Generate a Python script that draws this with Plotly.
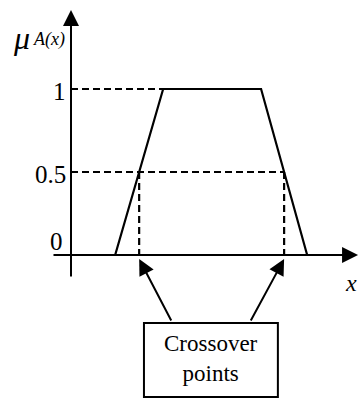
import plotly.graph_objects as go

# ---- data ----
trap_x = [0.92, 1.92, 3.96, 4.92]      # a, b, c, d corners of trapezoid
trap_mu = [0, 1, 1, 0]                  # membership at corners
cross_mu = 0.5                          # crossover membership level
cross_x = [1.42, 4.44]                  # crossover points
tick_vals = [0, 0.5, 1]
tick_text = ["0", "0.5", "1"]
box_text = "Crossover<br>points"

BLACK = "#000000"
SERIF = "Liberation Serif, Times New Roman, serif"
DASH = "7px,4px"

fig = go.Figure()

# trapezoid membership function
fig.add_trace(go.Scatter(x=trap_x, y=trap_mu, mode="lines",
                         line=dict(color=BLACK, width=2.2), hoverinfo="skip"))

# dashed guide at mu = 1 (from axis to top-left corner)
fig.add_trace(go.Scatter(x=[0, trap_x[1]], y=[trap_mu[1], trap_mu[1]], mode="lines",
                         line=dict(color=BLACK, width=2, dash=DASH), hoverinfo="skip"))
# dashed guide at mu = 0.5 (from axis to right crossover)
fig.add_trace(go.Scatter(x=[0, cross_x[1]], y=[cross_mu, cross_mu], mode="lines",
                         line=dict(color=BLACK, width=2, dash=DASH), hoverinfo="skip"))
# vertical dashed lines at crossovers
for cx in cross_x:
    fig.add_trace(go.Scatter(x=[cx, cx], y=[cross_mu, 0], mode="lines",
                             line=dict(color=BLACK, width=2.2, dash=DASH), hoverinfo="skip"))

ann = []
# y axis arrow
ann.append(dict(x=0, y=1.476, ax=0, ay=-0.139, xref="x", yref="y", axref="x", ayref="y",
                showarrow=True, arrowhead=2, arrowsize=1.6, arrowwidth=2, arrowcolor=BLACK, text=""))
# x axis arrow
ann.append(dict(x=5.98, y=0, ax=-0.396, ay=0, xref="x", yref="y", axref="x", ayref="y",
                showarrow=True, arrowhead=2, arrowsize=1.6, arrowwidth=2, arrowcolor=BLACK, text=""))
# crossover arrows from the box
box_x0, box_x1, box_y0, box_y1 = 1.52, 4.31, -0.855, -0.41
tails = [(2.104, -0.404), (3.729, -0.404)]
for cx, (tx, ty) in zip(cross_x, tails):
    ann.append(dict(x=cx, y=-0.024, ax=tx, ay=ty, xref="x", yref="y", axref="x", ayref="y",
                    showarrow=True, arrowhead=2, arrowsize=1.6, arrowwidth=2, arrowcolor=BLACK, text=""))

# tick labels
for v, t in zip(tick_vals, tick_text):
    ann.append(dict(x=-0.06 if v != 0 else -0.12, y=v, xref="x", yref="y", text=t, showarrow=False,
                    xanchor="right", yanchor="middle", yshift=(14 if v == 0 else -2),
                    xshift=0, font=dict(family=SERIF, size=25, color=BLACK)))

# axis titles
ann.append(dict(x=-1.25, y=1.31, xref="x", yref="y", text="<i>μ</i>", showarrow=False,
                xanchor="left", yanchor="middle", font=dict(family=SERIF, size=32, color=BLACK)))
ann.append(dict(x=-0.84, y=1.30, xref="x", yref="y", text="<i>A(x)</i>", showarrow=False,
                xanchor="left", yanchor="middle", font=dict(family=SERIF, size=18, color=BLACK)))
ann.append(dict(x=6.0, y=-0.17, xref="x", yref="y", text="<i>x</i>", showarrow=False,
                xanchor="right", yanchor="middle", font=dict(family=SERIF, size=24, color=BLACK)))

# box text
ann.append(dict(x=(box_x0 + box_x1) / 2, y=(box_y0 + box_y1) / 2 + 0.01, xref="x", yref="y",
                text=box_text, showarrow=False, xanchor="center", yanchor="middle",
                font=dict(family=SERIF, size=23, color=BLACK)))

fig.add_shape(type="rect", x0=box_x0, x1=box_x1, y0=box_y0, y1=box_y1, xref="x", yref="y",
              line=dict(color=BLACK, width=2), fillcolor="rgba(0,0,0,0)")

fig.update_layout(
    width=359, height=399,
    margin=dict(l=0, r=0, t=0, b=0),
    paper_bgcolor="white", plot_bgcolor="white",
    showlegend=False,
    annotations=ann,
    xaxis=dict(visible=False, range=[-71 / 48, 288 / 48], fixedrange=True),
    yaxis=dict(visible=False, range=[-144 / 166, 255 / 166], fixedrange=True),
)

fig.write_html("out.html", config={"displayModeBar": False},
               post_script="document.body.style.margin='0';document.body.style.overflow='hidden';")
